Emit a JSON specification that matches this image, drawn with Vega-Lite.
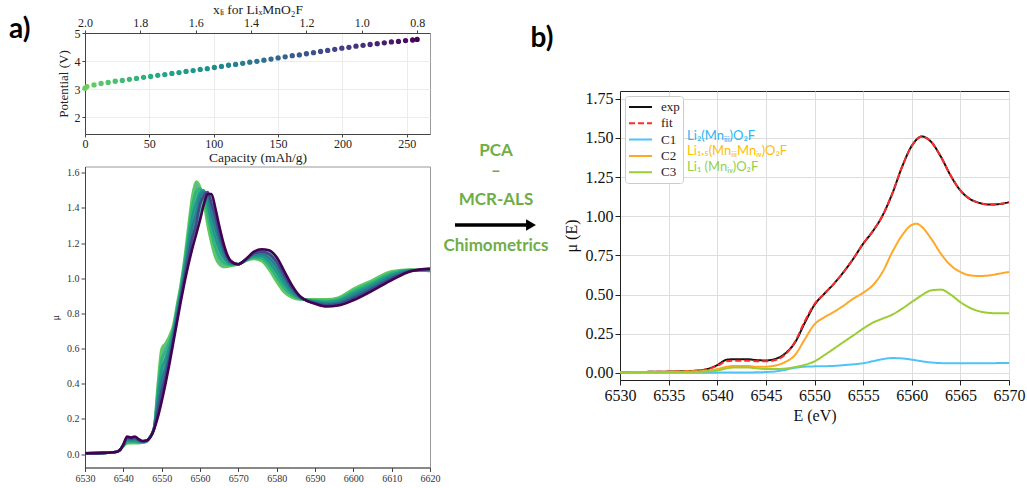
{
  "$schema": "https://vega.github.io/schema/vega-lite/v6.json",
  "background": "white",
  "padding": {"left": 8, "top": 1, "right": 5, "bottom": 5},
  "config": {
    "font": "Liberation Serif",
    "axis": {"labelFont": "Liberation Serif", "titleFont": "Liberation Serif", "titleFontWeight": "normal", "labelColor": "#222", "titleColor": "#222", "tickColor": "#444", "domainColor": "#444", "labelFlush": false, "labelOverlap": false},
    "view": {"stroke": "#999"}
  },
  "spacing": 1,
  "resolve": {"scale": {"color": "independent", "strokeDash": "independent"}, "legend": {"color": "independent", "strokeDash": "independent"}},
  "hconcat": [
    {
      "spacing": 1.5,
      "resolve": {"scale": {"color": "independent"}, "legend": {"color": "independent"}},
      "vconcat": [
        {
          "width": 345,
          "height": 101,
          "data": {"values": [
            {"cap": 0, "V": 3.03}, {"cap": 1.5, "V": 3.09}, {"cap": 7, "V": 3.15}, {"cap": 12.5, "V": 3.2}, {"cap": 18, "V": 3.24},
            {"cap": 23.5, "V": 3.28}, {"cap": 29, "V": 3.31}, {"cap": 34.5, "V": 3.35}, {"cap": 40, "V": 3.38}, {"cap": 45.5, "V": 3.42},
            {"cap": 51, "V": 3.45}, {"cap": 56.5, "V": 3.49}, {"cap": 62, "V": 3.52}, {"cap": 67.5, "V": 3.56}, {"cap": 73, "V": 3.59},
            {"cap": 78.5, "V": 3.63}, {"cap": 84, "V": 3.66}, {"cap": 89.5, "V": 3.7}, {"cap": 95, "V": 3.73}, {"cap": 100.5, "V": 3.77},
            {"cap": 106, "V": 3.81}, {"cap": 111.5, "V": 3.85}, {"cap": 117, "V": 3.88}, {"cap": 122.5, "V": 3.92}, {"cap": 128, "V": 3.96},
            {"cap": 133.5, "V": 3.99}, {"cap": 139, "V": 4.03}, {"cap": 144.5, "V": 4.07}, {"cap": 150, "V": 4.11}, {"cap": 155.5, "V": 4.15},
            {"cap": 161, "V": 4.19}, {"cap": 166.5, "V": 4.22}, {"cap": 172, "V": 4.26}, {"cap": 177.5, "V": 4.3}, {"cap": 183, "V": 4.34},
            {"cap": 188.5, "V": 4.38}, {"cap": 194, "V": 4.42}, {"cap": 199.5, "V": 4.46}, {"cap": 205, "V": 4.49}, {"cap": 210.5, "V": 4.53},
            {"cap": 216, "V": 4.56}, {"cap": 221.5, "V": 4.59}, {"cap": 227, "V": 4.62}, {"cap": 232.5, "V": 4.65}, {"cap": 238, "V": 4.68},
            {"cap": 243.5, "V": 4.7}, {"cap": 249, "V": 4.73}, {"cap": 254.5, "V": 4.75}, {"cap": 258, "V": 4.77}
          ]},
          "resolve": {"axis": {"x": "independent"}},
          "layer": [
            {
              "mark": {"type": "circle", "size": 28, "opacity": 1},
              "encoding": {
                "x": {"field": "cap", "type": "quantitative", "scale": {"domain": [0, 268], "nice": false},
                      "axis": {"orient": "bottom", "values": [0, 50, 100, 150, 200, 250], "title": "Capacity (mAh/g)", "labelFontSize": 12, "titleFontSize": 13.5, "grid": true, "gridColor": "#ececec", "tickSize": 3, "labelPadding": 1, "titlePadding": 1}},
                "y": {"field": "V", "type": "quantitative", "scale": {"domain": [1.4, 5], "nice": false, "zero": false},
                      "axis": {"values": [2, 3, 4, 5], "title": "Potential (V)", "labelFontSize": 12, "titleFontSize": 13, "grid": true, "gridColor": "#ececec", "tickSize": 3, "labelPadding": 2, "titlePadding": 4, "labelOverlap": false}},
                "color": {"field": "cap", "type": "quantitative", "scale": {"scheme": {"name": "viridis", "extent": [0.78, 0]}}, "legend": null}
              }
            },
            {
              "mark": {"type": "point", "opacity": 0},
              "encoding": {
                "x": {"field": "cap", "type": "quantitative",
                      "axis": {"orient": "top", "values": [0, 43, 86, 129, 172, 215, 258], "labelExpr": "format(2 - datum.value/215, '.1f')", "title": "xₗᵢ for LiₓMnO₂F", "labelFontSize": 12, "titleFontSize": 13.5, "grid": false, "tickSize": 3, "labelPadding": 1, "titlePadding": 0}},
                "y": {"field": "V", "type": "quantitative",
                      "axis": {"values": [2, 3, 4, 5], "title": "Potential (V)", "labelFontSize": 12, "titleFontSize": 13, "grid": true, "gridColor": "#ececec", "tickSize": 3, "labelPadding": 2, "titlePadding": 4, "labelOverlap": false}}
              }
            },
            {
              "data": {"values": [{}]},
              "mark": {"type": "text", "text": "a)", "font": "Lato", "fontWeight": "bold", "fontSize": 28, "align": "left", "baseline": "middle", "color": "black"},
              "encoding": {"x": {"datum": -59, "axis": null},
                           "y": {"datum": 5.12, "axis": {"values": [2, 3, 4, 5], "title": "Potential (V)", "labelFontSize": 12, "titleFontSize": 13, "grid": true, "gridColor": "#ececec", "tickSize": 3, "labelPadding": 2, "titlePadding": 4, "labelOverlap": false}}}
            }
          ]
        },
        {
          "width": 345,
          "height": 301,
          "data": {"values": [
            {"E": 6530, "c0": 0.005, "c1": 0.005, "c2": 0.005, "c3": 0.005, "c4": 0.005, "c5": 0.005},
            {"E": 6535, "c0": 0.007, "c1": 0.007, "c2": 0.007, "c3": 0.007, "c4": 0.007, "c5": 0.007},
            {"E": 6538, "c0": 0.012, "c1": 0.012, "c2": 0.012, "c3": 0.012, "c4": 0.012, "c5": 0.012},
            {"E": 6539, "c0": 0.02, "c1": 0.02, "c2": 0.021, "c3": 0.021, "c4": 0.022, "c5": 0.022},
            {"E": 6540, "c0": 0.045, "c1": 0.047, "c2": 0.049, "c3": 0.051, "c4": 0.053, "c5": 0.055},
            {"E": 6541, "c0": 0.06, "c1": 0.068, "c2": 0.076, "c3": 0.084, "c4": 0.092, "c5": 0.1},
            {"E": 6542, "c0": 0.062, "c1": 0.069, "c2": 0.075, "c3": 0.082, "c4": 0.088, "c5": 0.095},
            {"E": 6543, "c0": 0.062, "c1": 0.07, "c2": 0.077, "c3": 0.085, "c4": 0.092, "c5": 0.1},
            {"E": 6544, "c0": 0.062, "c1": 0.067, "c2": 0.071, "c3": 0.076, "c4": 0.08, "c5": 0.085},
            {"E": 6545, "c0": 0.065, "c1": 0.067, "c2": 0.069, "c3": 0.071, "c4": 0.073, "c5": 0.075},
            {"E": 6546, "c0": 0.07, "c1": 0.072, "c2": 0.073, "c3": 0.075, "c4": 0.076, "c5": 0.078},
            {"E": 6547, "c0": 0.1, "c1": 0.099, "c2": 0.098, "c3": 0.097, "c4": 0.096, "c5": 0.095},
            {"E": 6548, "c0": 0.15, "c1": 0.148, "c2": 0.146, "c3": 0.144, "c4": 0.142, "c5": 0.14},
            {"E": 6549, "c0": 0.4, "c1": 0.362, "c2": 0.324, "c3": 0.286, "c4": 0.248, "c5": 0.21},
            {"E": 6550, "c0": 0.6, "c1": 0.54, "c2": 0.48, "c3": 0.42, "c4": 0.36, "c5": 0.3},
            {"E": 6551, "c0": 0.63, "c1": 0.584, "c2": 0.538, "c3": 0.492, "c4": 0.446, "c5": 0.4},
            {"E": 6552, "c0": 0.67, "c1": 0.638, "c2": 0.606, "c3": 0.574, "c4": 0.542, "c5": 0.51},
            {"E": 6553, "c0": 0.73, "c1": 0.71, "c2": 0.69, "c3": 0.67, "c4": 0.65, "c5": 0.63},
            {"E": 6554, "c0": 0.85, "c1": 0.83, "c2": 0.81, "c3": 0.79, "c4": 0.77, "c5": 0.75},
            {"E": 6555, "c0": 0.97, "c1": 0.95, "c2": 0.93, "c3": 0.91, "c4": 0.89, "c5": 0.87},
            {"E": 6556, "c0": 1.12, "c1": 1.092, "c2": 1.064, "c3": 1.036, "c4": 1.008, "c5": 0.98},
            {"E": 6557, "c0": 1.3, "c1": 1.256, "c2": 1.212, "c3": 1.168, "c4": 1.124, "c5": 1.08},
            {"E": 6558, "c0": 1.47, "c1": 1.41, "c2": 1.35, "c3": 1.29, "c4": 1.23, "c5": 1.17},
            {"E": 6559, "c0": 1.55, "c1": 1.49, "c2": 1.43, "c3": 1.37, "c4": 1.31, "c5": 1.25},
            {"E": 6560, "c0": 1.52, "c1": 1.51, "c2": 1.49, "c3": 1.46, "c4": 1.42, "c5": 1.33},
            {"E": 6561, "c0": 1.43, "c1": 1.47, "c2": 1.5, "c3": 1.49, "c4": 1.47, "c5": 1.42},
            {"E": 6562, "c0": 1.3, "c1": 1.36, "c2": 1.42, "c3": 1.47, "c4": 1.49, "c5": 1.48},
            {"E": 6563, "c0": 1.2, "c1": 1.256, "c2": 1.312, "c3": 1.368, "c4": 1.424, "c5": 1.48},
            {"E": 6564, "c0": 1.12, "c1": 1.176, "c2": 1.232, "c3": 1.288, "c4": 1.344, "c5": 1.4},
            {"E": 6565, "c0": 1.08, "c1": 1.124, "c2": 1.168, "c3": 1.212, "c4": 1.256, "c5": 1.3},
            {"E": 6566, "c0": 1.065, "c1": 1.094, "c2": 1.123, "c3": 1.152, "c4": 1.181, "c5": 1.21},
            {"E": 6567, "c0": 1.065, "c1": 1.08, "c2": 1.095, "c3": 1.11, "c4": 1.125, "c5": 1.14},
            {"E": 6568, "c0": 1.07, "c1": 1.076, "c2": 1.082, "c3": 1.088, "c4": 1.094, "c5": 1.1},
            {"E": 6570, "c0": 1.08, "c1": 1.08, "c2": 1.08, "c3": 1.08, "c4": 1.08, "c5": 1.08},
            {"E": 6572, "c0": 1.1, "c1": 1.102, "c2": 1.104, "c3": 1.106, "c4": 1.108, "c5": 1.11},
            {"E": 6574, "c0": 1.11, "c1": 1.118, "c2": 1.126, "c3": 1.134, "c4": 1.142, "c5": 1.15},
            {"E": 6576, "c0": 1.1, "c1": 1.113, "c2": 1.126, "c3": 1.139, "c4": 1.152, "c5": 1.165},
            {"E": 6578, "c0": 1.05, "c1": 1.072, "c2": 1.094, "c3": 1.116, "c4": 1.138, "c5": 1.16},
            {"E": 6580, "c0": 0.98, "c1": 1.008, "c2": 1.036, "c3": 1.064, "c4": 1.092, "c5": 1.12},
            {"E": 6582, "c0": 0.92, "c1": 0.944, "c2": 0.968, "c3": 0.992, "c4": 1.016, "c5": 1.04},
            {"E": 6584, "c0": 0.89, "c1": 0.904, "c2": 0.918, "c3": 0.932, "c4": 0.946, "c5": 0.96},
            {"E": 6586, "c0": 0.88, "c1": 0.884, "c2": 0.888, "c3": 0.892, "c4": 0.896, "c5": 0.9},
            {"E": 6588, "c0": 0.88, "c1": 0.878, "c2": 0.876, "c3": 0.874, "c4": 0.872, "c5": 0.87},
            {"E": 6590, "c0": 0.88, "c1": 0.875, "c2": 0.87, "c3": 0.865, "c4": 0.86, "c5": 0.855},
            {"E": 6593, "c0": 0.88, "c1": 0.872, "c2": 0.864, "c3": 0.856, "c4": 0.848, "c5": 0.84},
            {"E": 6596, "c0": 0.89, "c1": 0.881, "c2": 0.872, "c3": 0.863, "c4": 0.854, "c5": 0.845},
            {"E": 6600, "c0": 0.94, "c1": 0.927, "c2": 0.914, "c3": 0.901, "c4": 0.888, "c5": 0.875},
            {"E": 6605, "c0": 0.99, "c1": 0.978, "c2": 0.966, "c3": 0.954, "c4": 0.942, "c5": 0.93},
            {"E": 6610, "c0": 1.04, "c1": 1.03, "c2": 1.02, "c3": 1.01, "c4": 1.0, "c5": 0.99},
            {"E": 6615, "c0": 1.05, "c1": 1.048, "c2": 1.046, "c3": 1.044, "c4": 1.042, "c5": 1.04},
            {"E": 6620, "c0": 1.04, "c1": 1.043, "c2": 1.046, "c3": 1.049, "c4": 1.052, "c5": 1.055}
          ]},
          "layer": [
            {
              "mark": {"type": "area", "interpolate": "monotone", "color": "#23998a", "opacity": 0.75},
              "encoding": {
                "x": {"field": "E", "type": "quantitative", "scale": {"domain": [6530, 6620], "nice": false},
                      "axis": {"values": [6530, 6540, 6550, 6560, 6570, 6580, 6590, 6600, 6610, 6620], "format": "d", "title": "Energy (eV)", "labelFontSize": 10, "titleFontSize": 10.5, "grid": false, "tickSize": 4, "labelColor": "#333", "titlePadding": 3, "labelOverlap": false}},
                "y": {"field": "c0", "type": "quantitative", "scale": {"domain": [-0.076, 1.636], "nice": false, "zero": false},
                      "axis": {"values": [0, 0.2, 0.4, 0.6, 0.8, 1.0, 1.2, 1.4, 1.6], "format": ".1f", "title": "μ", "labelFontSize": 10, "titleFontSize": 10, "grid": false, "tickSize": 4, "labelColor": "#333", "titlePadding": 6, "labelOverlap": false}},
                "y2": {"field": "c5"}
              }
            },
            {
              "transform": [{"fold": ["c0", "c1", "c2", "c3", "c4", "c5"], "as": ["k", "mu"]}],
              "mark": {"type": "line", "interpolate": "monotone", "strokeWidth": 2.6},
              "encoding": {
                "x": {"field": "E", "type": "quantitative",
                      "axis": {"values": [6530, 6540, 6550, 6560, 6570, 6580, 6590, 6600, 6610, 6620], "format": "d", "title": "Energy (eV)", "labelFontSize": 10, "titleFontSize": 10.5, "grid": false, "tickSize": 4, "labelColor": "#333", "titlePadding": 3, "labelOverlap": false}},
                "y": {"field": "mu", "type": "quantitative",
                      "axis": {"values": [0, 0.2, 0.4, 0.6, 0.8, 1.0, 1.2, 1.4, 1.6], "format": ".1f", "title": "μ", "labelFontSize": 10, "titleFontSize": 10, "grid": false, "tickSize": 4, "labelColor": "#333", "titlePadding": 6, "labelOverlap": false}},
                "color": {"field": "k", "type": "nominal", "scale": {"domain": ["c0", "c1", "c2", "c3", "c4", "c5"], "range": ["#5ec962", "#2fb47c", "#1f9a8a", "#277f8e", "#3e4a89", "#440154"]}, "legend": null}
              }
            }
          ]
        }
      ]
    },
    {
      "width": 119,
      "height": 250,
      "data": {"values": [{}]},
      "view": {"stroke": null},
      "layer": [
        {
          "mark": {"type": "text", "text": "PCA", "font": "Lato", "fontWeight": "bold", "fontSize": 17, "color": "#70ad47", "align": "center", "baseline": "middle"},
          "encoding": {"x": {"datum": 54, "scale": {"domain": [0, 119], "nice": false}, "axis": null}, "y": {"datum": 118, "scale": {"domain": [0, 250], "nice": false, "reverse": true}, "axis": null}}
        },
        {
          "mark": {"type": "text", "text": "–", "font": "Lato", "fontWeight": "bold", "fontSize": 17, "color": "#70ad47", "align": "center", "baseline": "middle"},
          "encoding": {"x": {"datum": 54}, "y": {"datum": 138}}
        },
        {
          "mark": {"type": "text", "text": "MCR-ALS", "font": "Lato", "fontWeight": "bold", "fontSize": 17, "color": "#70ad47", "align": "center", "baseline": "middle"},
          "encoding": {"x": {"datum": 54}, "y": {"datum": 167}}
        },
        {
          "mark": {"type": "text", "text": "Chimometrics", "font": "Lato", "fontWeight": "bold", "fontSize": 17, "color": "#70ad47", "align": "center", "baseline": "middle"},
          "encoding": {"x": {"datum": 54}, "y": {"datum": 213}}
        },
        {
          "mark": {"type": "rule", "strokeWidth": 3.5, "color": "black"},
          "encoding": {"x": {"datum": 13}, "x2": {"datum": 85}, "y": {"datum": 192}}
        },
        {
          "mark": {"type": "point", "shape": "triangle-right", "filled": true, "size": 130, "color": "black", "opacity": 1},
          "encoding": {"x": {"datum": 89}, "y": {"datum": 192}}
        },
        {
          "mark": {"type": "text", "text": "b)", "font": "Lato", "fontWeight": "bold", "fontSize": 28, "color": "black", "align": "center", "baseline": "middle"},
          "encoding": {"x": {"datum": 100}, "y": {"datum": 6}}
        }
      ]
    },
    {
      "spacing": 6,
      "resolve": {"scale": {"color": "independent", "strokeDash": "independent"}, "legend": {"color": "independent", "strokeDash": "independent"}},
      "vconcat": [
        {
          "width": 389,
          "height": 51,
          "data": {"values": [{}]},
          "view": {"stroke": null},
          "mark": {"type": "point", "opacity": 0}
        },
        {
          "width": 389,
          "height": 289,
          "view": {"stroke": "#222"},
          "data": {"values": [
            {"E": 6530, "exp": 0.005, "fit": 0.005, "C1": 0.002, "C2": 0.005, "C3": 0.004},
            {"E": 6533, "exp": 0.007, "fit": 0.007, "C1": 0.002, "C2": 0.006, "C3": 0.005},
            {"E": 6536, "exp": 0.01, "fit": 0.01, "C1": 0.002, "C2": 0.008, "C3": 0.006},
            {"E": 6538, "exp": 0.015, "fit": 0.015, "C1": 0.002, "C2": 0.01, "C3": 0.008},
            {"E": 6539, "exp": 0.025, "fit": 0.024, "C1": 0.002, "C2": 0.015, "C3": 0.01},
            {"E": 6540, "exp": 0.05, "fit": 0.045, "C1": 0.002, "C2": 0.025, "C3": 0.015},
            {"E": 6541, "exp": 0.085, "fit": 0.075, "C1": 0.003, "C2": 0.04, "C3": 0.03},
            {"E": 6542, "exp": 0.088, "fit": 0.078, "C1": 0.003, "C2": 0.045, "C3": 0.035},
            {"E": 6543, "exp": 0.088, "fit": 0.078, "C1": 0.003, "C2": 0.045, "C3": 0.035},
            {"E": 6544, "exp": 0.082, "fit": 0.075, "C1": 0.004, "C2": 0.04, "C3": 0.03},
            {"E": 6545, "exp": 0.08, "fit": 0.074, "C1": 0.006, "C2": 0.04, "C3": 0.025},
            {"E": 6546, "exp": 0.09, "fit": 0.083, "C1": 0.01, "C2": 0.048, "C3": 0.025},
            {"E": 6547, "exp": 0.125, "fit": 0.118, "C1": 0.02, "C2": 0.07, "C3": 0.028},
            {"E": 6548, "exp": 0.195, "fit": 0.2, "C1": 0.033, "C2": 0.115, "C3": 0.038},
            {"E": 6549, "exp": 0.32, "fit": 0.33, "C1": 0.04, "C2": 0.215, "C3": 0.052},
            {"E": 6550, "exp": 0.435, "fit": 0.44, "C1": 0.042, "C2": 0.31, "C3": 0.074},
            {"E": 6551, "exp": 0.505, "fit": 0.505, "C1": 0.043, "C2": 0.355, "C3": 0.113},
            {"E": 6552, "exp": 0.57, "fit": 0.57, "C1": 0.045, "C2": 0.39, "C3": 0.155},
            {"E": 6553, "exp": 0.645, "fit": 0.645, "C1": 0.05, "C2": 0.43, "C3": 0.198},
            {"E": 6554, "exp": 0.73, "fit": 0.73, "C1": 0.055, "C2": 0.475, "C3": 0.24},
            {"E": 6555, "exp": 0.825, "fit": 0.825, "C1": 0.062, "C2": 0.512, "C3": 0.283},
            {"E": 6556, "exp": 0.905, "fit": 0.905, "C1": 0.075, "C2": 0.56, "C3": 0.321},
            {"E": 6557, "exp": 1.005, "fit": 1.005, "C1": 0.088, "C2": 0.645, "C3": 0.347},
            {"E": 6558, "exp": 1.145, "fit": 1.145, "C1": 0.095, "C2": 0.772, "C3": 0.372},
            {"E": 6559, "exp": 1.315, "fit": 1.315, "C1": 0.093, "C2": 0.878, "C3": 0.41},
            {"E": 6560, "exp": 1.45, "fit": 1.45, "C1": 0.085, "C2": 0.945, "C3": 0.453},
            {"E": 6560.5, "exp": 1.49, "fit": 1.49, "C1": 0.08, "C2": 0.953, "C3": 0.474},
            {"E": 6561, "exp": 1.51, "fit": 1.51, "C1": 0.075, "C2": 0.935, "C3": 0.495},
            {"E": 6562, "exp": 1.475, "fit": 1.475, "C1": 0.067, "C2": 0.857, "C3": 0.527},
            {"E": 6563, "exp": 1.38, "fit": 1.38, "C1": 0.063, "C2": 0.761, "C3": 0.532},
            {"E": 6564, "exp": 1.26, "fit": 1.26, "C1": 0.062, "C2": 0.687, "C3": 0.5},
            {"E": 6565, "exp": 1.165, "fit": 1.165, "C1": 0.062, "C2": 0.645, "C3": 0.452},
            {"E": 6566, "exp": 1.11, "fit": 1.11, "C1": 0.062, "C2": 0.623, "C3": 0.415},
            {"E": 6567, "exp": 1.085, "fit": 1.085, "C1": 0.062, "C2": 0.619, "C3": 0.393},
            {"E": 6568, "exp": 1.075, "fit": 1.075, "C1": 0.062, "C2": 0.623, "C3": 0.383},
            {"E": 6569, "exp": 1.078, "fit": 1.078, "C1": 0.063, "C2": 0.634, "C3": 0.381},
            {"E": 6570, "exp": 1.09, "fit": 1.09, "C1": 0.063, "C2": 0.645, "C3": 0.381}
          ]},
          "layer": [
            {
              "transform": [{"fold": ["exp", "fit", "C1", "C2", "C3"], "as": ["s", "mu"]}],
              "mark": {"type": "line", "interpolate": "monotone", "strokeWidth": 2},
              "encoding": {
                "x": {"field": "E", "type": "quantitative", "scale": {"domain": [6530, 6570], "nice": false},
                      "axis": {"values": [6530, 6535, 6540, 6545, 6550, 6555, 6560, 6565, 6570], "format": "d", "title": "E (eV)", "labelFontSize": 16, "titleFontSize": 16, "grid": true, "gridColor": "#dddddd", "tickSize": 5, "labelColor": "#111", "titleColor": "#111", "domainColor": "#222", "tickColor": "#222", "titlePadding": 4, "labelOverlap": false}},
                "y": {"field": "mu", "type": "quantitative", "scale": {"domain": [-0.045, 1.8], "nice": false, "zero": false},
                      "axis": {"values": [0, 0.25, 0.5, 0.75, 1.0, 1.25, 1.5, 1.75], "format": ".2f", "title": "μ (E)", "labelFontSize": 16, "titleFontSize": 16, "grid": true, "gridColor": "#dddddd", "tickSize": 5, "labelColor": "#111", "titleColor": "#111", "domainColor": "#222", "tickColor": "#222", "titlePadding": 6, "labelOverlap": false}},
                "color": {"field": "s", "type": "nominal", "scale": {"domain": ["exp", "fit", "C1", "C2", "C3"], "range": ["#111111", "#ff2b2b", "#4fc3f7", "#ffa726", "#9acd32"]},
                          "legend": {"title": null, "orient": "top-left", "offset": 5, "fillColor": "white", "strokeColor": "#cccccc", "cornerRadius": 3, "padding": 3, "symbolType": "M-1,0H2.29", "symbolSize": 196, "symbolStrokeWidth": 2, "labelFont": "Liberation Serif", "labelFontSize": 13, "labelColor": "#222", "labelOffset": 17, "rowPadding": 1.3}},
                "strokeDash": {"field": "s", "type": "nominal", "scale": {"domain": ["exp", "fit", "C1", "C2", "C3"], "range": [[1, 0], [6, 3], [1, 0], [1, 0], [1, 0]]},
                          "legend": {"title": null, "orient": "top-left", "offset": 5, "fillColor": "white", "strokeColor": "#cccccc", "cornerRadius": 3, "padding": 3, "symbolType": "M-1,0H2.29", "symbolSize": 196, "symbolStrokeWidth": 2, "labelFont": "Liberation Serif", "labelFontSize": 13, "labelColor": "#222", "labelOffset": 17, "rowPadding": 1.3}}
              }
            },
            {
              "data": {"values": [{}]},
              "mark": {"type": "text", "align": "left", "baseline": "middle", "font": "Lato", "fontSize": 13, "color": "#29b6f6", "text": "Li₂(Mnᵢᵢᵢ)O₂F"},
              "encoding": {"x": {"datum": 6536.9}, "y": {"datum": 1.513}}
            },
            {
              "data": {"values": [{}]},
              "mark": {"type": "text", "align": "left", "baseline": "middle", "font": "Lato", "fontSize": 13, "color": "#ffc000", "text": "Li₁.₅(MnᵢᵢᵢMnᵢᵥ)O₂F"},
              "encoding": {"x": {"datum": 6536.9}, "y": {"datum": 1.416}}
            },
            {
              "data": {"values": [{}]},
              "mark": {"type": "text", "align": "left", "baseline": "middle", "font": "Lato", "fontSize": 13, "color": "#92d050", "text": "Li₁ (Mnᵢᵥ)O₂F"},
              "encoding": {"x": {"datum": 6536.9}, "y": {"datum": 1.317}}
            }
          ]
        }
      ]
    }
  ]
}
